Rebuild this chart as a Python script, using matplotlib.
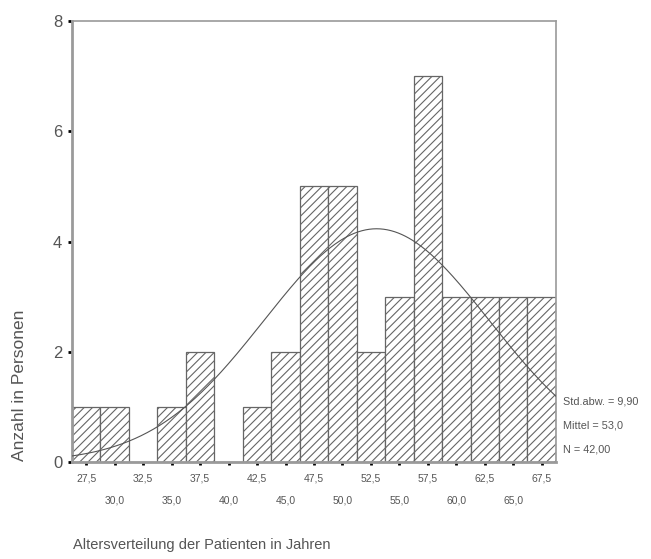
import numpy as np
import matplotlib
matplotlib.use("Agg")
import matplotlib.pyplot as plt
from matplotlib.ticker import FixedLocator

plt.rcParams['font.family'] = ['Liberation Sans', 'DejaVu Sans']
plt.rcParams['hatch.color'] = '#8a8a8a'
plt.rcParams['hatch.linewidth'] = 0.8

# Age classes (bin centres, width 2.5 years) and number of patients
bin_centers = [27.5, 30.0, 32.5, 35.0, 37.5, 40.0, 42.5, 45.0, 47.5,
               50.0, 52.5, 55.0, 57.5, 60.0, 62.5, 65.0, 67.5]
counts = [1, 1, 0, 1, 2, 0, 1, 2, 5, 5, 2, 3, 7, 3, 3, 3, 3]
bin_width = 2.5

# Summary statistics shown beside the plot
std_dev = 9.90
mean = 53.0
n_total = 42

y_ticks = [0, 2, 4, 6, 8]


def de(v, digits):
    """Format a number with a German decimal comma."""
    return f"{v:.{digits}f}".replace('.', ',')


fig = plt.figure(figsize=(6.51, 5.59), dpi=100)
ax = fig.add_axes([0.1106, 0.1735, 0.7434, 0.7889])

gray = '#9a9a9a'
text_gray = '#555555'

ax.bar(bin_centers, counts, width=bin_width, facecolor='white',
       edgecolor='#666666', linewidth=0.9, hatch='////', zorder=2)

# Normal curve scaled to the histogram
x0 = bin_centers[0] - bin_width / 2
x1 = bin_centers[-1] + bin_width / 2
xs = np.linspace(x0, x1, 400)
ys = n_total * bin_width / (std_dev * np.sqrt(2 * np.pi)) * \
    np.exp(-0.5 * ((xs - mean) / std_dev) ** 2)
ax.plot(xs, ys, color='#555555', linewidth=0.8, zorder=3)

ax.set_xlim(x0, x1)
ax.set_ylim(0, 8)

for side in ['top', 'right']:
    ax.spines[side].set_color(gray)
    ax.spines[side].set_linewidth(1.2)
for side in ['left', 'bottom']:
    ax.spines[side].set_color(gray)
    ax.spines[side].set_linewidth(2.0)

ax.set_yticks(y_ticks)
ax.set_yticklabels([str(v) for v in y_ticks])
ax.tick_params(axis='y', direction='out', length=3, width=2, color='black',
               labelsize=12, labelcolor=text_gray, pad=4)

# Alternate x tick labels over two rows
upper = bin_centers[0::2]
lower = bin_centers[1::2]
ax.xaxis.set_major_locator(FixedLocator(upper))
ax.set_xticklabels([de(v, 1) for v in upper])
ax.set_xticks(lower, [de(v, 1) for v in lower], minor=True)
ax.tick_params(axis='x', which='major', direction='out', length=2, width=2,
               color='black', labelsize=7.5, labelcolor=text_gray, pad=6)
ax.tick_params(axis='x', which='minor', direction='out', length=2, width=2,
               color='black', labelsize=7.5, labelcolor=text_gray, pad=22)

stats = [f"Std.abw. = {de(std_dev, 2)}",
         f"Mittel = {de(mean, 1)}",
         f"N = {de(n_total, 2)}"]
for i, s in enumerate(stats):
    fig.text(563 / 651, 1 - (401 + 24.5 * i) / 559, s, fontsize=7.8,
             color=text_gray, ha='left', va='center')

fig.text(20 / 651, 1 - 385 / 559, "Anzahl in Personen", rotation=90,
         fontsize=12.5, color=text_gray, ha='center', va='center')
fig.text(73 / 651, 1 - 545 / 559, "Altersverteilung der Patienten in Jahren",
         fontsize=10.5, color=text_gray, ha='left', va='center')

fig.savefig('out.png', dpi=100)
